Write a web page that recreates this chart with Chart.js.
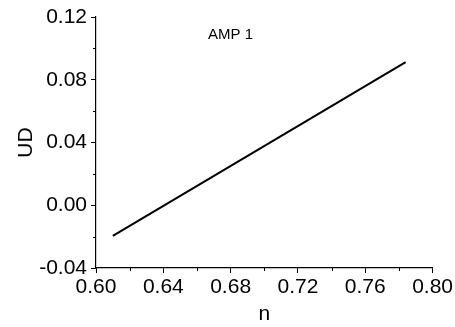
<!DOCTYPE html>
<html>
<head>
<meta charset="utf-8">
<script src="https://cdn.jsdelivr.net/npm/chart.js@4"></script>
<style>
  html, body { margin: 0; padding: 0; background: #fff; }
  #wrap { width: 455px; height: 327px; }
</style>
</head>
<body>
<div id="wrap"><canvas id="udChart"></canvas></div>
<script>
// UD versus n, single run
const nValues = [0.610, 0.784];
const udValues = [-0.0195, 0.0913];
const seriesLabel = 'AMP 1';
const labelPos = { x: 0.680, y: 0.1085 };

const xRange = { min: 0.60, max: 0.80, step: 0.02 };
const yRange = { min: -0.04, max: 0.12, step: 0.02 };

const FONT = '"Liberation Sans", Arial, sans-serif';

// every other tick (0.04 apart) is a major one with a label
function isMajor(v) {
  return Math.abs(Math.round(v * 100)) % 4 === 0;
}

// short minor ticks plus the in-plot series label
const extras = {
  id: 'extras',
  afterDraw(chart) {
    const ctx = chart.ctx;
    const xs = chart.scales.x, ys = chart.scales.y;
    const area = chart.chartArea;
    ctx.save();
    ctx.strokeStyle = '#000';
    ctx.lineWidth = 1;
    ctx.beginPath();
    xs.ticks.forEach(t => {
      if (isMajor(t.value)) return;
      const px = Math.round(xs.getPixelForValue(t.value)) + 0.5;
      ctx.moveTo(px, area.bottom);
      ctx.lineTo(px, area.bottom + 3);
    });
    ys.ticks.forEach(t => {
      if (isMajor(t.value)) return;
      const py = Math.round(ys.getPixelForValue(t.value)) + 0.5;
      ctx.moveTo(area.left, py);
      ctx.lineTo(area.left - 3, py);
    });
    ctx.stroke();

    ctx.fillStyle = '#000';
    ctx.font = '15px ' + FONT;
    ctx.textAlign = 'center';
    ctx.textBaseline = 'middle';
    ctx.fillText(seriesLabel, xs.getPixelForValue(labelPos.x), ys.getPixelForValue(labelPos.y));
    ctx.restore();
  }
};

const tickColor = c => isMajor(c.tick.value) ? '#000' : 'rgba(0,0,0,0)';

new Chart(document.getElementById('udChart'), {
  type: 'line',
  data: {
    datasets: [{
      label: seriesLabel,
      data: nValues.map((n, i) => ({ x: n, y: udValues[i] })),
      borderColor: '#000',
      borderWidth: 2,
      pointRadius: 0,
      fill: false,
      tension: 0
    }]
  },
  options: {
    responsive: true,
    maintainAspectRatio: false,
    animation: false,
    layout: { padding: { left: 0, right: 22, top: 17, bottom: 0 } },
    plugins: {
      legend: { display: false },
      tooltip: { enabled: false }
    },
    scales: {
      x: {
        type: 'linear',
        min: xRange.min,
        max: xRange.max,
        afterFit(scale) { scale.height = 59; },
        border: { display: true, color: '#000', width: 1.2 },
        grid: { drawOnChartArea: false, drawTicks: true, tickLength: 5, tickColor: tickColor },
        ticks: {
          stepSize: xRange.step,
          autoSkip: false,
          maxRotation: 0,
          padding: 2,
          color: '#000',
          font: { family: FONT, size: 21 },
          callback: v => isMajor(v) ? v.toFixed(2) : ''
        },
        title: {
          display: true,
          text: 'n',
          color: '#000',
          font: { family: FONT, size: 21 },
          padding: { top: 0, bottom: 0 }
        }
      },
      y: {
        type: 'linear',
        min: yRange.min,
        max: yRange.max,
        afterFit(scale) { scale.width = 96; },
        border: { display: true, color: '#000', width: 1.2 },
        grid: { drawOnChartArea: false, drawTicks: true, tickLength: 5, tickColor: tickColor },
        ticks: {
          stepSize: yRange.step,
          autoSkip: false,
          padding: 4,
          color: '#000',
          font: { family: FONT, size: 21 },
          callback: v => isMajor(v) ? v.toFixed(2) : ''
        },
        title: {
          display: true,
          text: 'UD',
          color: '#000',
          font: { family: FONT, size: 21 },
          padding: { top: 14, bottom: 0 }
        }
      }
    }
  },
  plugins: [extras]
});
</script>
</body>
</html>
